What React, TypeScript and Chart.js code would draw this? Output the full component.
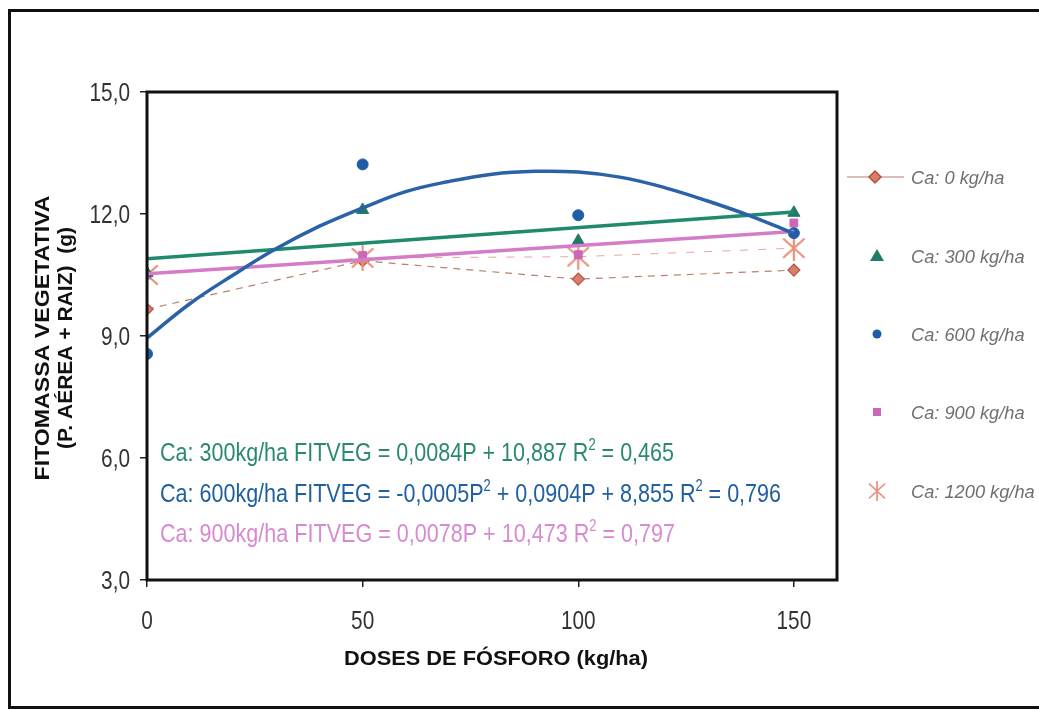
import React, { useEffect, useRef } from "react";
import { Chart, registerables } from "chart.js";

Chart.register(...registerables);

// ---- data ----
const doses = [0, 50, 100, 150];
const ca0 = [9.66, 10.85, 10.4, 10.62];
const ca300 = [10.55, 12.1, 11.34, 12.03];
const ca600 = [8.56, 13.22, 11.97, 11.53];
const ca900 = [10.5, 10.98, 11.0, 11.78];
const ca1200 = [10.5, 10.92, 10.95, 11.16];

const trendX = [0, 150];
const trend300 = [10.9, 12.05];
const trend900 = [10.53, 11.57];
const curveX = [0, 10, 20, 30, 40, 50, 60, 70, 80, 90, 100, 110, 120, 130, 140, 150];
const curve600 = [8.95, 9.8, 10.5, 11.15, 11.7, 12.15, 12.55, 12.8, 12.98, 13.05, 13.03, 12.9, 12.65, 12.32, 11.95, 11.52];

const seriesLabels = ["Ca: 0 kg/ha", "Ca: 300 kg/ha", "Ca: 600 kg/ha", "Ca: 900 kg/ha", "Ca: 1200 kg/ha"];
const xTitle = "DOSES DE FÓSFORO (kg/ha)";
const yTitle = ["FITOMASSA VEGETATIVA", "(P. AÉREA + RAIZ)  (g)"];
const equations = [
  [{ t: "Ca: 300kg/ha FITVEG = 0,0084P + 10,887 R" }, { t: "2", sup: true }, { t: " = 0,465" }],
  [{ t: "Ca: 600kg/ha FITVEG = -0,0005P" }, { t: "2", sup: true }, { t: " + 0,0904P + 8,855 R" }, { t: "2", sup: true }, { t: " = 0,796" }],
  [{ t: "Ca: 900kg/ha FITVEG = 0,0078P + 10,473 R" }, { t: "2", sup: true }, { t: " = 0,797" }],
];

const C0 = "#b85040";
const C0fill = "#d4806c";
const C0line = "#b8806e";
const C300 = "#1f7a66";
const C600 = "#1f5ea6";
const C900 = "#cc66bb";
const C1200 = "#e8907a";
const T300 = "#1f8a6c";
const T600 = "#2a62a8";
const T900 = "#d47cc8";
const EQ = ["#2a8a70", "#20609f", "#d88ad0"];

const pts = (xs: number[], ys: number[]) => xs.map((x, i) => ({ x, y: ys[i] }));
const fmtY = (v: number) => v.toFixed(1).replace(".", ",");

function makeStar(color: string) {
  const cv = document.createElement("canvas");
  cv.width = 24;
  cv.height = 26;
  const g = cv.getContext("2d")!;
  g.strokeStyle = color;
  g.lineWidth = 2.2;
  g.lineCap = "round";
  g.beginPath();
  g.moveTo(12, 1); g.lineTo(12, 25);
  g.moveTo(2, 4); g.lineTo(22, 22);
  g.moveTo(22, 4); g.lineTo(2, 22);
  g.stroke();
  return cv;
}

type Seg = { t: string; sup?: boolean };

function drawSegs(
  ctx: CanvasRenderingContext2D,
  segs: Seg[],
  x: number,
  y: number,
  size: number,
  weight: string,
  style: string,
  color: string,
  scaleOrWidth: { w?: number; sx?: number },
  align: "left" | "center" | "right",
  rotate = false
) {
  const fam = "'Liberation Sans', Arial, sans-serif";
  const f = (s: number) => `${style} ${weight} ${s}px ${fam}`;
  let total = 0;
  const ws = segs.map((s) => {
    ctx.font = f(s.sup ? size * 0.6 : size);
    const w = ctx.measureText(s.t).width;
    total += w;
    return w;
  });
  const sx = scaleOrWidth.w ? scaleOrWidth.w / total : scaleOrWidth.sx ?? 1;
  ctx.save();
  ctx.translate(x, y);
  if (rotate) ctx.rotate(-Math.PI / 2);
  ctx.scale(sx, 1);
  ctx.fillStyle = color;
  ctx.textBaseline = "alphabetic";
  ctx.textAlign = "left";
  let cx = align === "center" ? -total / 2 : align === "right" ? -total : 0;
  segs.forEach((s, i) => {
    ctx.font = f(s.sup ? size * 0.6 : size);
    ctx.fillText(s.t, cx, s.sup ? -size * 0.42 : 0);
    cx += ws[i];
  });
  ctx.restore();
}

export default function App() {
  const ref = useRef<HTMLCanvasElement>(null);

  useEffect(() => {
    const canvas = ref.current!;
    const star = makeStar(C1200);

    const overlay = {
      id: "overlay",
      afterDraw(chart: any) {
        const ctx: CanvasRenderingContext2D = chart.ctx;
        const a = chart.chartArea;
        const xs = chart.scales.x;
        const ys = chart.scales.y;
        // plot box
        ctx.save();
        ctx.strokeStyle = "#111";
        ctx.lineWidth = 3;
        ctx.strokeRect(a.left, a.top, a.right - a.left, a.bottom - a.top);
        ctx.restore();
        // tick labels (narrow look) from the library's scales
        ys.ticks.forEach((t: any) => {
          const py = ys.getPixelForValue(t.value);
          drawSegs(ctx, [{ t: fmtY(t.value) }], a.left - 17, py + 9, 26, "normal", "normal", "#333", { sx: 0.8 }, "right");
        });
        xs.ticks.forEach((t: any) => {
          const px = xs.getPixelForValue(t.value);
          drawSegs(ctx, [{ t: String(t.value) }], px, a.bottom + 49, 26, "normal", "normal", "#333", { sx: 0.8 }, "center");
        });
        // equations
        const eqW = [514, 621, 515];
        const eqY = [461, 502, 542];
        equations.forEach((segs, i) => {
          drawSegs(ctx, segs, a.left + 13, eqY[i], 26, "normal", "normal", EQ[i], { w: eqW[i] }, "left");
        });
        // axis titles
        drawSegs(ctx, [{ t: yTitle[0] }], 49, 338, 21, "bold", "normal", "#111", { w: 285 }, "center", true);
        drawSegs(ctx, [{ t: yTitle[1] }], 72, 338, 21, "bold", "normal", "#111", { w: 222 }, "center", true);
        drawSegs(ctx, [{ t: xTitle }], 496, 665, 21, "bold", "normal", "#111", { w: 304 }, "center");
        // legend
        const ly = [177, 256, 334, 412, 491];
        const mx = 877;
        ctx.save();
        ctx.strokeStyle = C0line;
        ctx.lineWidth = 1.2;
        ctx.beginPath();
        ctx.moveTo(847, ly[0]);
        ctx.lineTo(904, ly[0]);
        ctx.stroke();
        ctx.fillStyle = C0fill;
        ctx.strokeStyle = C0;
        ctx.lineWidth = 1.5;
        ctx.beginPath();
        ctx.moveTo(mx - 2, ly[0] - 6);
        ctx.lineTo(mx + 4, ly[0]);
        ctx.lineTo(mx - 2, ly[0] + 6);
        ctx.lineTo(mx - 8, ly[0]);
        ctx.closePath();
        ctx.fill();
        ctx.stroke();
        ctx.fillStyle = C300;
        ctx.beginPath();
        ctx.moveTo(mx, ly[1] - 7);
        ctx.lineTo(mx + 7, ly[1] + 5);
        ctx.lineTo(mx - 7, ly[1] + 5);
        ctx.closePath();
        ctx.fill();
        ctx.fillStyle = C600;
        ctx.beginPath();
        ctx.arc(mx, ly[2], 4.5, 0, Math.PI * 2);
        ctx.fill();
        ctx.fillStyle = C900;
        ctx.fillRect(mx - 4, ly[3] - 4, 8, 8);
        ctx.drawImage(star, mx - 9, ly[4] - 10, 18, 20);
        ctx.restore();
        seriesLabels.forEach((lab, i) => {
          drawSegs(ctx, [{ t: lab }], 911, ly[i] + 7, 19, "normal", "italic", "#707070", { sx: 0.96 }, "left");
        });
      },
    };

    const chart = new Chart(canvas, {
      type: "scatter",
      data: {
        datasets: [
          {
            label: "Trend 600",
            data: pts(curveX, curve600),
            showLine: true,
            borderColor: T600,
            borderWidth: 3.5,
            pointRadius: 0,
            tension: 0.4,
            order: 1,
          },
          {
            label: "Trend 300",
            data: pts(trendX, trend300),
            showLine: true,
            borderColor: T300,
            borderWidth: 3.5,
            pointRadius: 0,
            order: 2,
          },
          {
            label: "Trend 900",
            data: pts(trendX, trend900),
            showLine: true,
            borderColor: T900,
            borderWidth: 3.5,
            pointRadius: 0,
            order: 3,
          },
          {
            label: seriesLabels[1],
            data: pts(doses, ca300),
            pointStyle: "triangle",
            pointRadius: 7,
            backgroundColor: C300,
            borderColor: C300,
            borderWidth: 1,
            order: 4,
          },
          {
            label: seriesLabels[2],
            data: pts(doses, ca600),
            pointStyle: "circle",
            pointRadius: 5.5,
            backgroundColor: C600,
            borderColor: C600,
            order: 5,
          },
          {
            label: seriesLabels[3],
            data: pts(doses, ca900),
            pointStyle: "rect",
            pointRadius: 5.5,
            backgroundColor: C900,
            borderColor: C900,
            order: 6,
          },
          {
            label: seriesLabels[4],
            data: pts(doses, ca1200),
            showLine: true,
            borderColor: "#e3a898",
            borderWidth: 1,
            borderDash: [8, 10],
            pointStyle: star as any,
            pointRadius: 12,
            order: 7,
          },
          {
            label: seriesLabels[0],
            data: pts(doses, ca0),
            showLine: true,
            borderColor: C0line,
            borderWidth: 1.2,
            borderDash: [7, 6],
            pointStyle: "rectRot",
            pointRadius: 6,
            backgroundColor: C0fill,
            pointBorderColor: C0,
            order: 8,
          } as any,
        ],
      },
      options: {
        responsive: false,
        animation: false,
        layout: { padding: { left: 0, top: 92, right: 202, bottom: 0 } },
        plugins: { legend: { display: false }, tooltip: { enabled: false }, title: { display: false } },
        scales: {
          x: {
            type: "linear",
            min: 0,
            max: 160,
            afterFit: (s: any) => {
              s.height = 129;
            },
            border: { display: false },
            grid: { drawOnChartArea: false, drawTicks: true, tickLength: 7, color: "#222", lineWidth: 1.5 },
            ticks: { stepSize: 50, includeBounds: false, display: false },
          },
          y: {
            type: "linear",
            min: 3,
            max: 15,
            afterFit: (s: any) => {
              s.width = 147;
            },
            border: { display: false },
            grid: { drawOnChartArea: false, drawTicks: true, tickLength: 7, color: "#222", lineWidth: 1.5 },
            ticks: { stepSize: 3, display: false },
          },
        },
      },
      plugins: [overlay],
    } as any);

    return () => chart.destroy();
  }, []);

  return (
    <div style={{ position: "fixed", left: 0, top: 0, width: 1039, height: 709, overflow: "hidden", background: "#fff" }}>
      <canvas ref={ref} width={1039} height={709} style={{ position: "absolute", left: 0, top: 0, width: 1039, height: 709 }} />
      <div
        style={{
          position: "absolute",
          left: 8,
          top: 9,
          width: 1200,
          height: 700,
          boxSizing: "border-box",
          border: "3px solid #111",
          pointerEvents: "none",
        }}
      />
    </div>
  );
}
